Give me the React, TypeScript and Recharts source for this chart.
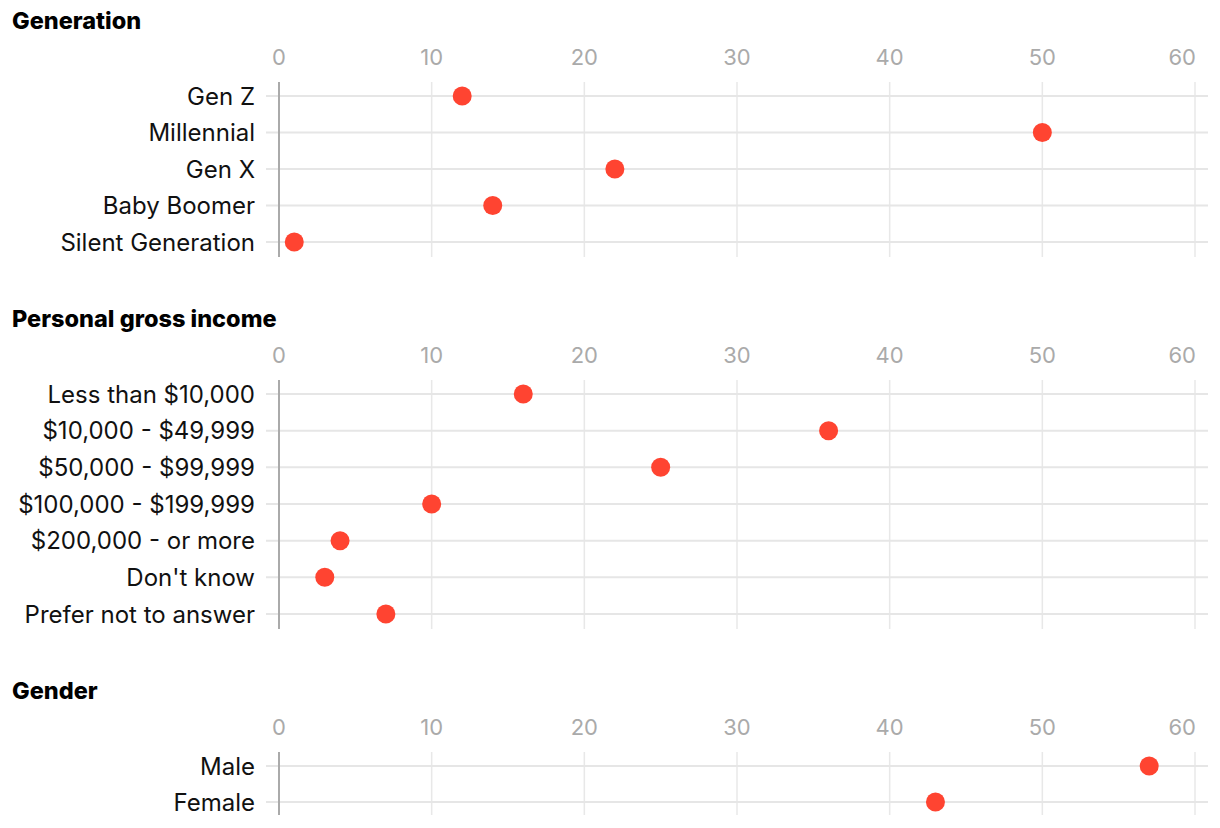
import React from "react";
import {
  ScatterChart,
  Scatter,
  XAxis,
  YAxis,
  CartesianGrid,
  ReferenceLine,
} from "recharts";

const xTicks = [0, 10, 20, 30, 40, 50, 60];

const generationLabels = [
  "Gen Z",
  "Millennial",
  "Gen X",
  "Baby Boomer",
  "Silent Generation",
];
const generationValues = [12, 50, 22, 14, 1];

const incomeLabels = [
  "Less than $10,000",
  "$10,000 - $49,999",
  "$50,000 - $99,999",
  "$100,000 - $199,999",
  "$200,000 - or more",
  "Don't know",
  "Prefer not to answer",
];
const incomeValues = [16, 36, 25, 10, 4, 3, 7];

const genderLabels = ["Male", "Female"];
const genderValues = [57, 43];

const FONT = "Inter, 'Open Sans', sans-serif";
const DOT = "#ff4431";

const Dot = (props: any) => (
  <circle cx={props.cx} cy={props.cy} r={9.5} fill={DOT} />
);

// last tick label sits left of its gridline, like the original
const TopTick = (props: any) => {
  const { x, y, payload } = props;
  const last = payload.value === xTicks[xTicks.length - 1];
  return (
    <text
      x={last ? x + 1 : x}
      y={y}
      textAnchor={last ? "end" : "middle"}
      fill="#aaaaaa"
      fontSize={22}
      fontFamily={FONT}
    >
      {payload.value}
    </text>
  );
};

function Panel({
  title,
  labels,
  values,
  top,
  height,
  padBottom = 15,
}: {
  title: string;
  labels: string[];
  values: number[];
  top: number;
  height: number;
  padBottom?: number;
}) {
  const data = labels.map((name, i) => ({ name, value: values[i] }));
  return (
    <>
      <div
        style={{
          position: "absolute",
          left: 12,
          top: top - 33,
          fontFamily: FONT,
          fontWeight: 800,
          fontSize: 23.5,
          lineHeight: "28px",
          color: "#000",
        }}
      >
        {title}
      </div>
      <div style={{ position: "absolute", left: 0, top }}>
        <ScatterChart
          width={1220}
          height={height + 10}
          margin={{ top: 0, right: 12, bottom: 10, left: 0 }}
          style={{ fontFamily: FONT }}
        >
          <CartesianGrid
            horizontal={false}
            stroke="#e8e8e8"
            strokeWidth={1.5}
            syncWithTicks
          />
          <CartesianGrid
            vertical={false}
            stroke="#e6e6e6"
            strokeWidth={2}
            syncWithTicks
          />
          <XAxis
            type="number"
            dataKey="value"
            orientation="top"
            domain={[0, 60]}
            ticks={xTicks}
            interval={0}
            height={42}
            padding={{ left: 13, right: 13 }}
            axisLine={false}
            tickLine={false}
            tickSize={0}
            tickMargin={17}
            tick={<TopTick />}
          />
          <YAxis
            type="category"
            dataKey="name"
            scale="point"
            reversed
            width={266}
            padding={{ top: 14, bottom: padBottom }}
            interval={0}
            axisLine={false}
            tickLine={false}
            tickSize={0}
            tickMargin={11}
            tick={{ fill: "#111111", fontSize: 24 }}
          />
          <ReferenceLine x={0} stroke="#aaaaaa" strokeWidth={2} />
          <Scatter data={data} shape={Dot} isAnimationActive={false} />
        </ScatterChart>
      </div>
    </>
  );
}

export default function App() {
  return (
    <div
      style={{
        position: "absolute",
        left: 0,
        top: 0,
        width: 1220,
        height: 828,
        background: "#fff",
        overflow: "hidden",
      }}
    >
      <Panel
        title="Generation"
        labels={generationLabels}
        values={generationValues}
        top={40}
        height={217}
      />
      <Panel
        title="Personal gross income"
        labels={incomeLabels}
        values={incomeValues}
        top={338}
        height={291}
      />
      <Panel
        title="Gender"
        labels={genderLabels}
        values={genderValues}
        top={710}
        height={105}
        padBottom={13}
      />
    </div>
  );
}
